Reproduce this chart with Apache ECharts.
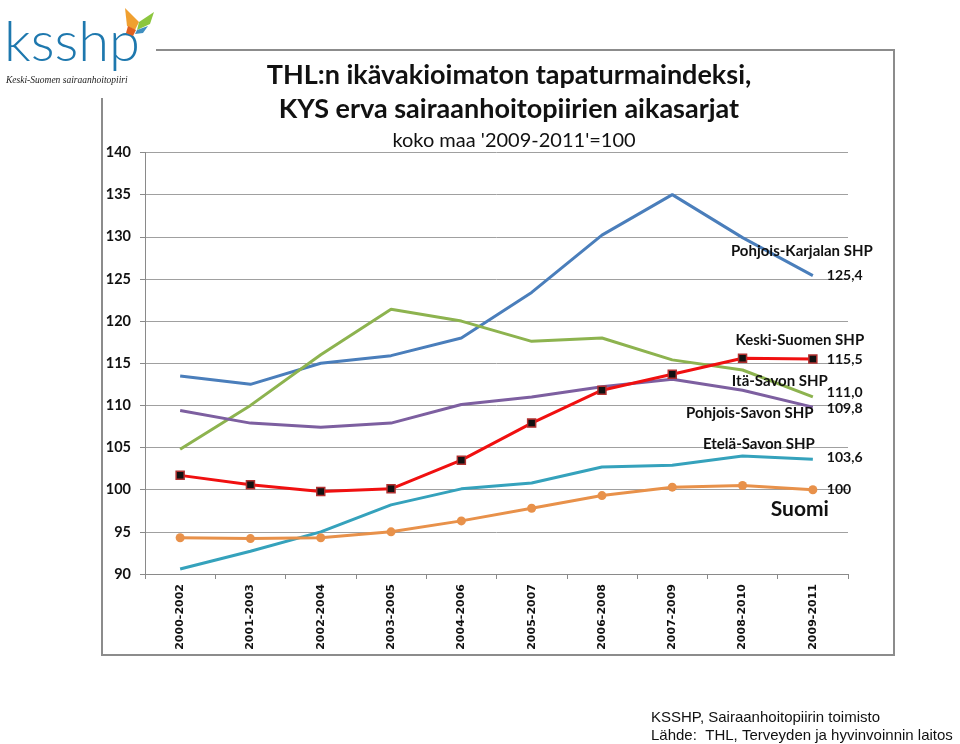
<!DOCTYPE html>
<html>
<head>
<meta charset="utf-8">
<script src="https://cdn.jsdelivr.net/npm/echarts@6/dist/echarts.min.js"></script>
<style>
html,body{margin:0;padding:0;background:#fff;}
#c{width:960px;height:744px;}
</style>
</head>
<body>
<div id="c"></div>
<script>
const categories = ['2000-2002','2001-2003','2002-2004','2003-2005','2004-2006','2005-2007','2006-2008','2007-2009','2008-2010','2009-2011'];
const pohjoisKarjala = [113.5, 112.5, 115.0, 115.9, 118.0, 123.4, 130.2, 135.0, 129.9, 125.4];
const itaSavo = [104.8, 110.0, 116.0, 121.4, 120.0, 117.6, 118.0, 115.4, 114.2, 111.0];
const keskiSuomi = [101.7, 100.6, 99.8, 100.1, 103.5, 107.9, 111.8, 113.7, 115.6, 115.5];
const pohjoisSavo = [109.4, 107.9, 107.4, 107.9, 110.1, 111.0, 112.2, 113.1, 111.8, 109.8];
const etelaSavo = [90.6, 92.7, 95.0, 98.2, 100.1, 100.8, 102.7, 102.9, 104.0, 103.6];
const suomi = [94.3, 94.2, 94.3, 95.0, 96.3, 97.8, 99.3, 100.3, 100.5, 100.0];
const seriesNames = ['Pohjois-Karjalan SHP','Itä-Savon SHP','Keski-Suomen SHP','Pohjois-Savon SHP','Etelä-Savon SHP','Suomi'];
const valueLabels = ['125,4','111,0','115,5','109,8','103,6','100'];
const yTicks = [90, 95, 100, 105, 110, 115, 120, 125, 130, 135, 140];

const FONT = 'Lato, "Open Sans", sans-serif';
const chart = echarts.init(document.getElementById('c'), null, {renderer:'canvas'});

function mkSeries(name, data, color, opts, valueText, nameOffset, valueOffset, nameStyle) {
  const last = data.length - 1;
  return Object.assign({
    name: name, type: 'line', data: data,
    lineStyle: {color: color, width: 3},
    itemStyle: {color: color},
    symbol: 'none', showSymbol: false,
    animation: false,
    z: 3,
    labelLayout: {hideOverlap: false},
    endLabel: {show: true, distance: 14, offset: valueOffset || [0,0],
      formatter: valueText, fontFamily: FONT, fontWeight: 'bold', fontSize: 14, color: '#111'},
    markPoint: {
      symbol: 'circle', symbolSize: 1,
      itemStyle: {color: 'rgba(0,0,0,0)'},
      data: [{coord: [categories[last], data[last]], value: name}],
      label: Object.assign({show: true, position: 'inside', offset: nameOffset,
        formatter: name, fontFamily: FONT, fontWeight: 'bold', fontSize: 15, color: '#111'}, nameStyle || {}),
      animation: false
    }
  }, opts || {});
}

const option = {
  animation: false,
  backgroundColor: '#fff',
  title: [
    {text: 'THL:n ikävakioimaton tapaturmaindeksi,', left: 504, top: 57, textAlign: 'center',
      textStyle: {fontFamily: FONT, fontWeight: 'bold', fontSize: 27, color: '#111'}},
    {text: 'KYS erva sairaanhoitopiirien aikasarjat', left: 504, top: 91, textAlign: 'center',
      textStyle: {fontFamily: FONT, fontWeight: 'bold', fontSize: 27, color: '#111'}},
    {text: "koko maa '2009-2011'=100", left: 509, top: 126, textAlign: 'center',
      textStyle: {fontFamily: FONT, fontWeight: 'normal', fontSize: 20, color: '#111'}}
  ],
  grid: {left: 145, right: 112, top: 152.5, bottom: 170, containLabel: false},
  xAxis: {
    type: 'category', data: categories, boundaryGap: true,
    axisLine: {show: true, lineStyle: {color: '#8a8a8a', width: 1}},
    axisTick: {show: true, length: 5, lineStyle: {color: '#8a8a8a'}},
    axisLabel: {rotate: 90, margin: 10, fontFamily: '"DejaVu Sans", Verdana, sans-serif', fontWeight: 'bold', fontSize: 11, color: '#111'},
    splitLine: {show: false}
  },
  yAxis: {
    type: 'value', min: yTicks[0], max: yTicks[yTicks.length-1], interval: yTicks[1]-yTicks[0],
    axisLine: {show: true, lineStyle: {color: '#8a8a8a', width: 1}},
    axisTick: {show: true, length: 5, lineStyle: {color: '#8a8a8a'}},
    axisLabel: {margin: 14, fontFamily: FONT, fontWeight: 'bold', fontSize: 14.5, color: '#111'},
    splitLine: {show: true, lineStyle: {color: '#a0a0a0', width: 1}}
  },
  series: [
    mkSeries(seriesNames[0], pohjoisKarjala, '#4A7EBB', null, valueLabels[0], [-11, -24], [0,0]),
    mkSeries(seriesNames[1], itaSavo, '#8DB34F', null, valueLabels[1], [-33, -16], [0,-4]),
    mkSeries(seriesNames[3], pohjoisSavo, '#7D5FA0', null, valueLabels[3], [-63, 6], [0,1]),
    mkSeries(seriesNames[4], etelaSavo, '#35A2BC', null, valueLabels[4], [-54, -15], [0,-2]),
    mkSeries(seriesNames[5], suomi, '#E8914A', {symbol: 'circle', symbolSize: 9, showSymbol: true,
      itemStyle: {color: '#E8914A'}}, valueLabels[5], [-13, 20], [0,0], {fontSize: 21}),
    mkSeries(seriesNames[2], keskiSuomi, '#F01010', {symbol: 'rect', symbolSize: 8, showSymbol: true,
      itemStyle: {color: '#111', borderColor: '#B03030', borderWidth: 1.5}, z: 5}, valueLabels[2], [-13, -19], [0,0])
  ],
  graphic: [
    {type: 'polyline', shape: {points: [[156,50],[894,50],[894,655],[102,655],[102,98]]},
      style: {stroke: '#8c8c8c', lineWidth: 2, fill: null}, silent: true},
    {type: 'text', left: 4, top: 15, style: {text: 'ksshp', font: '300 56px Lato, "Open Sans", sans-serif', fill: '#1E78AE'}},
    {type: 'polygon', shape: {points: [[125,8],[139,22],[135,30],[127,26]]}, style: {fill: '#F0A030'}},
    {type: 'polygon', shape: {points: [[128,26],[136,30],[133,36],[126,33]]}, style: {fill: '#E06020'}},
    {type: 'polygon', shape: {points: [[139,22],[154,12],[150,24],[137,30]]}, style: {fill: '#8CC63F'}},
    {type: 'polygon', shape: {points: [[137,30],[148,26],[143,33],[135,34]]}, style: {fill: '#3F8FC0'}},
    {type: 'text', left: 6, top: 75, style: {text: 'Keski-Suomen sairaanhoitopiiri', font: 'italic 9.5px "Liberation Serif", serif', fill: '#222'}},
    {type: 'text', left: 651, top: 710, style: {text: 'KSSHP, Sairaanhoitopiirin toimisto', font: '15px "Liberation Sans", Arial, sans-serif', fill: '#111'}},
    {type: 'text', left: 651, top: 728, style: {text: 'Lähde:  THL, Terveyden ja hyvinvoinnin laitos', font: '15px "Liberation Sans", Arial, sans-serif', fill: '#111'}}
  ]
};
chart.setOption(option);
</script>
</body>
</html>
